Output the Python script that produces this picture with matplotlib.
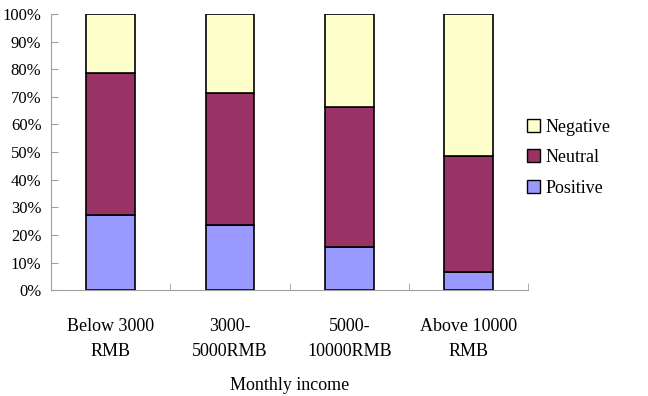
import matplotlib.pyplot as plt
from matplotlib.patches import Patch

categories = ['Below 3000\nRMB', '3000-\n5000RMB', '5000-\n10000RMB', 'Above 10000\nRMB']
positive = [27.2, 23.6, 15.8, 6.6]
neutral = [51.5, 47.6, 50.6, 41.8]
negative = [21.3, 28.8, 33.6, 51.6]

plt.rcParams['font.family'] = ['Liberation Serif', 'DejaVu Serif']

fig = plt.figure(figsize=(6.48, 3.96), dpi=100)
ax = fig.add_axes([0.079, 0.267, 0.736, 0.698])

x = range(len(categories))
w = 0.41
bottom2 = [p + n for p, n in zip(positive, neutral)]
ax.bar(x, positive, w, color='#9999FF', edgecolor='black', linewidth=1.2)
ax.bar(x, neutral, w, bottom=positive, color='#993366', edgecolor='black', linewidth=1.2)
ax.bar(x, negative, w, bottom=bottom2, color='#FFFFCC', edgecolor='black', linewidth=1.2)

ax.set_xlim(-0.5, len(categories) - 0.5)
ax.set_ylim(0, 100)
ax.set_yticks(range(0, 101, 10))
ax.set_yticklabels([f'{v}%' for v in range(0, 101, 10)], fontsize=12)
ax.set_xticks(x)
ax.set_xticklabels(categories, fontsize=13, linespacing=1.65)
ax.tick_params(axis='x', length=0, pad=20)
ax.set_xticks([0.5, 1.5, 2.5, 3.5], minor=True)
ax.tick_params(axis='x', which='minor', direction='in', length=5, color='#A0A0A0')
ax.tick_params(axis='y', direction='in', length=5, color='#A0A0A0', pad=7)

for s in ['top', 'right']:
    ax.spines[s].set_visible(False)
for s in ['left', 'bottom']:
    ax.spines[s].set_color('#A0A0A0')

ax.set_xlabel('Monthly income', fontsize=13, labelpad=12)

handles = [Patch(facecolor='#FFFFCC', edgecolor='black'),
           Patch(facecolor='#993366', edgecolor='black'),
           Patch(facecolor='#9999FF', edgecolor='black')]
fig.legend(handles, ['Negative', 'Neutral', 'Positive'], loc='center left',
           bbox_to_anchor=(0.788, 0.602), frameon=False, fontsize=13,
           handlelength=0.7, handleheight=0.7, handletextpad=0.35, labelspacing=0.75)

fig.savefig('out.png')
